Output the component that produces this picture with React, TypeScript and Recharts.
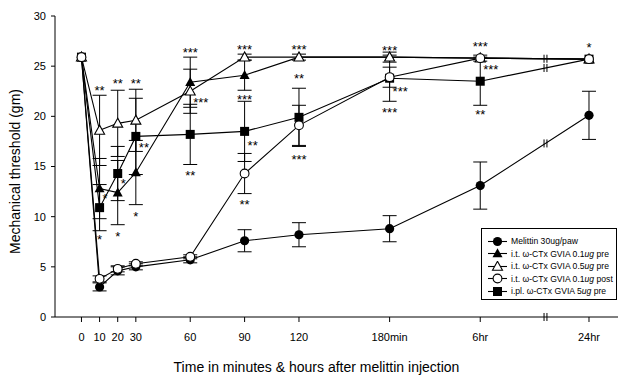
import React from 'react';
import { ComposedChart, Line, ErrorBar, XAxis, YAxis, Scatter, ReferenceLine } from 'recharts';

// x axis is broken: minutes up to 120 are linear, the later points are squeezed
const timeLabels = ['0', '10', '20', '30', '60', '90', '120', '180min', '6hr', '24hr'];
const axisPos = [0, 10, 20, 30, 60, 90, 120, 170, 220, 280];
const yTicks = [0, 5, 10, 15, 20, 25, 30];

const melittin = [25.9, 3.0, 4.6, 5.0, 5.7, 7.6, 8.2, 8.8, 13.1, 20.1];
const melittinErr = [0, 0.4, 0.4, 0.3, 0.3, 1.1, 1.2, 1.3, 2.35, 2.4];
const it01pre = [25.9, 12.8, 12.4, 14.4, 23.4, 24.1, 25.9, 25.9, 25.8, 25.7];
const it01preErr = [0, 3.0, 3.2, 3.2, 2.5, 1.5, 0.3, 0.5, 0, 0];
const it05pre = [25.9, 18.6, 19.3, 19.6, 22.5, 25.9, 25.9, 25.9, 25.8, 25.7];
const it05preErr = [0, 3.5, 3.3, 3.1, 2.2, 0.3, 0, 0, 0, 0];
const it01post = [25.9, 3.8, 4.8, 5.3, 6.0, 14.3, 19.1, 23.9, 25.8, 25.7];
const it01postErr = [0, 0.3, 0.3, 0.2, 0.2, 2.0, 2.0, 1.0, 0.3, 0];
const ipl5pre = [25.9, 10.9, 14.3, 18.0, 18.2, 18.5, 19.9, 23.8, 23.5, 25.7];
const ipl5preErr = [0, 2.3, 2.7, 3.8, 3.0, 3.0, 2.9, 2.3, 2.4, 0];

// significance marks: time label, value, text, r = set to the right of the bar
const stars = [
  { t: '10', v: 22.8, s: '**' },
  { t: '20', v: 23.5, s: '**' },
  { t: '30', v: 23.5, s: '**' },
  { t: '30', v: 17.1, s: '**', r: true },
  { t: '10', v: 12.0, s: '*', r: true },
  { t: '20', v: 13.5, s: '*', r: true },
  { t: '10', v: 7.9, s: '*' },
  { t: '20', v: 8.2, s: '*' },
  { t: '30', v: 10.2, s: '*' },
  { t: '60', v: 26.6, s: '***' },
  { t: '60', v: 21.6, s: '***', r: true },
  { t: '60', v: 14.3, s: '**' },
  { t: '90', v: 26.9, s: '***' },
  { t: '90', v: 21.9, s: '***' },
  { t: '90', v: 17.3, s: '**', r: true },
  { t: '90', v: 11.4, s: '**' },
  { t: '120', v: 26.9, s: '***' },
  { t: '120', v: 24.0, s: '**' },
  { t: '120', v: 15.9, s: '***' },
  { t: '180min', v: 26.8, s: '***' },
  { t: '180min', v: 22.7, s: '***', r: true },
  { t: '180min', v: 20.6, s: '***' },
  { t: '6hr', v: 27.2, s: '***' },
  { t: '6hr', v: 24.9, s: '***', r: true },
  { t: '6hr', v: 20.4, s: '**' },
  { t: '24hr', v: 27.1, s: '*' },
];

const series = [
  { key: 'm', vals: melittin, errs: melittinErr, shape: 'circle', label: <>Melittin 30ug/paw</> },
  { key: 'sq', vals: ipl5pre, errs: ipl5preErr, shape: 'square', label: <>i.pl. ω-CTx GVIA 5<i>ug</i> pre</> },
  { key: 'ft', vals: it01pre, errs: it01preErr, shape: 'tri', label: <>i.t. ω-CTx GVIA 0.1<i>ug</i> pre</> },
  { key: 'ot', vals: it05pre, errs: it05preErr, shape: 'otri', label: <>i.t. ω-CTx GVIA 0.5<i>ug</i> pre</> },
  { key: 'oc', vals: it01post, errs: it01postErr, shape: 'ocircle', label: <>i.t. ω-CTx GVIA 0.1<i>ug</i> post</> },
];
const legendOrder = ['m', 'ft', 'ot', 'oc', 'sq'];

const rows = axisPos.map((x, i) => {
  const r: any = { x };
  series.forEach((s) => {
    r[s.key] = s.vals[i];
    r[s.key + 'E'] = s.errs[i];
  });
  return r;
});

const starRows = stars.map((a) => ({ x: axisPos[timeLabels.indexOf(a.t)], y: a.v, s: a.s, r: !!a.r }));

// break marks between 6hr and 24hr
const brkAt = 256;
const n = axisPos.length;
const frac = (brkAt - axisPos[n - 2]) / (axisPos[n - 1] - axisPos[n - 2]);
const breakVals = [0];
series.forEach((s) => {
  const v = s.vals[n - 2] + frac * (s.vals[n - 1] - s.vals[n - 2]);
  if (!breakVals.some((b) => Math.abs(b - v) < 0.3)) breakVals.push(v);
});

const font = "'Liberation Sans', Arial, sans-serif";

function Marker({ shape, cx, cy }: { shape: string; cx: number; cy: number }) {
  if (cx == null || cy == null) return null;
  if (shape === 'circle') return <circle cx={cx} cy={cy} r={4.6} fill="#000" />;
  if (shape === 'ocircle') return <circle cx={cx} cy={cy} r={4.4} fill="#fff" stroke="#000" strokeWidth={1.1} />;
  if (shape === 'square') return <rect x={cx - 4.5} y={cy - 4.5} width={9} height={9} fill="#000" />;
  const pts = `${cx},${cy - 5.2} ${cx - 5},${cy + 3.8} ${cx + 5},${cy + 3.8}`;
  if (shape === 'tri') return <polygon points={pts} fill="#000" />;
  return <polygon points={pts} fill="#fff" stroke="#000" strokeWidth={1.1} />;
}

function Legend() {
  return (
    <div style={{ position: 'absolute', left: 481, top: 228, width: 136, height: 72, border: '1px solid #000', background: '#fff', color: '#000', fontFamily: font, fontSize: 8.6, boxSizing: 'border-box', paddingTop: 6 }}>
      {legendOrder.map((k) => {
        const s = series.find((x) => x.key === k)!;
        return (
          <div key={k} style={{ display: 'flex', alignItems: 'center', height: 12.5, paddingLeft: 6 }}>
            <svg width={20} height={11} style={{ marginRight: 3 }}>
              <line x1={0} x2={19} y1={5.5} y2={5.5} stroke="#000" strokeWidth={1.1} />
              <Marker shape={s.shape} cx={9.5} cy={5.5} />
            </svg>
            <span style={{ whiteSpace: 'nowrap', color: '#000' }}>{s.label}</span>
          </div>
        );
      })}
    </div>
  );
}

export default function App() {
  return (
    <div style={{ position: 'absolute', left: 0, top: 0, width: 622, height: 377, background: '#fff' }}>
      <ComposedChart width={622} height={377} data={rows} margin={{ top: 16, right: 4, bottom: 0, left: 0 }}>
        <XAxis
          dataKey="x"
          type="number"
          domain={[-14.6, 296]}
          ticks={axisPos}
          allowDataOverflow
          height={60}
          tickSize={5}
          tickMargin={11}
          tickFormatter={(v: number) => timeLabels[axisPos.indexOf(v)]}
          stroke="#000"
          tick={{ fill: '#000', fontSize: 11, fontFamily: font }}
          label={{ value: 'Time in minutes & hours after melittin injection', position: 'insideBottom', offset: 5, dx: -20, fill: '#000', fontSize: 14, fontFamily: font }}
        />
        <YAxis
          type="number"
          domain={[0, 30]}
          ticks={yTicks}
          width={55}
          tickSize={4}
          tickMargin={5}
          stroke="#000"
          tick={{ fill: '#000', fontSize: 11, fontFamily: font }}
          label={{ value: 'Mechanical threshold (gm)', angle: -90, position: 'center', dx: -12, dy: 5, fill: '#000', fontSize: 14, fontFamily: font }}
        />
        {breakVals.flatMap((v, i) =>
          [-0.8, 0.8].map((d) => (
            <ReferenceLine
              key={`b${i}${d}`}
              ifOverflow="visible"
              segment={[{ x: brkAt + d, y: v - 0.4 }, { x: brkAt + d, y: v + 0.4 }]}
              stroke="#000"
              strokeWidth={1}
            />
          ))
        )}
        {series.map((s) => (
          <Line
            key={s.key}
            dataKey={s.key}
            type="linear"
            stroke="#000"
            strokeWidth={1.1}
            isAnimationActive={false}
            dot={(p: any) => <Marker key={`${s.key}-${p.index}`} shape={s.shape} cx={p.cx} cy={p.cy} />}
            activeDot={false}
          >
            <ErrorBar dataKey={s.key + 'E'} width={7} stroke="#000" strokeWidth={1} direction="y" />
          </Line>
        ))}
        <Scatter
          data={starRows}
          dataKey="y"
          isAnimationActive={false}
          shape={(p: any) => (
            <text
              x={p.payload.r ? p.cx + 3 : p.cx}
              y={p.cy + 6.5}
              textAnchor={p.payload.r ? 'start' : 'middle'}
              fontSize={13}
              fontFamily={font}
              fill="#000"
            >
              {p.payload.s}
            </text>
          )}
        />
      </ComposedChart>
      <Legend />
    </div>
  );
}
